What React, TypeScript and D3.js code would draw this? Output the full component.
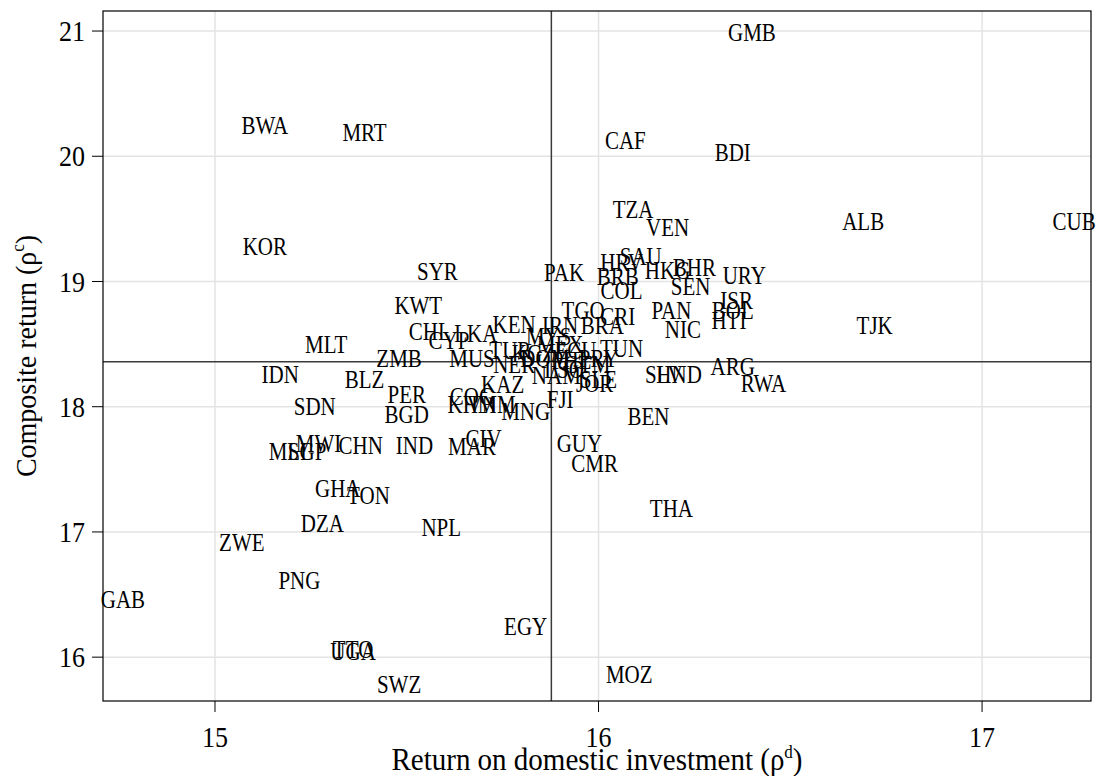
import React, { useRef, useEffect } from 'react';
import * as d3 from 'd3';

// country codes and their (domestic return, composite return) values
const codes = [
  'GMB', 'BWA', 'MRT', 'CAF', 'BDI', 'TZA', 'VEN', 'ALB', 'CUB', 'KOR',
  'SAU', 'HRV', 'HKG', 'BHR', 'URY', 'SYR', 'PAK', 'BRB', 'SEN', 'COL',
  'ISR', 'KWT', 'TJK', 'TGO', 'CRI', 'PAN', 'BOL', 'HTI', 'BRA', 'NIC',
  'KEN', 'IRN', 'CHL', 'LKA', 'CYP', 'MLT', 'ZMB', 'MUS', 'TUN', 'TUR',
  'ARG', 'IDN', 'BLZ', 'NER', 'NAM', 'SLE', 'JOR', 'SLV', 'HND', 'RWA',
  'PER', 'KAZ', 'COG', 'KHM', 'VNM', 'MNG', 'FJI', 'SDN', 'BGD', 'BEN',
  'MWI', 'MLI', 'SGP', 'CHN', 'IND', 'MAR', 'CIV', 'GUY', 'CMR', 'GHA',
  'TON', 'THA', 'DZA', 'NPL', 'ZWE', 'PNG', 'GAB', 'EGY', 'UGA', 'TTO',
  'SWZ', 'MOZ', 'MYS', 'MEX', 'ECU', 'DOM', 'KGZ', 'PRY', 'PHL', 'GTM',
  'LSO',
];

const domesticReturn = [
  16.40, 15.13, 15.39, 16.07, 16.35, 16.09, 16.18, 16.69, 17.24, 15.13,
  16.11, 16.06, 16.18, 16.25, 16.38, 15.58, 15.91, 16.05, 16.24, 16.06,
  16.36, 15.53, 16.72, 15.96, 16.05, 16.19, 16.35, 16.34, 16.01, 16.22,
  15.78, 15.90, 15.56, 15.68, 15.61, 15.29, 15.48, 15.67, 16.06, 15.77,
  16.35, 15.17, 15.39, 15.78, 15.89, 16.00, 15.99, 16.17, 16.21, 16.43,
  15.50, 15.75, 15.67, 15.67, 15.72, 15.81, 15.90, 15.26, 15.50, 16.13,
  15.27, 15.19, 15.24, 15.38, 15.52, 15.67, 15.70, 15.95, 15.99, 15.32,
  15.40, 16.19, 15.28, 15.59, 15.07, 15.22, 14.76, 15.81, 15.36, 15.36,
  15.48, 16.08, 15.87, 15.90, 15.94, 15.86, 15.83, 16.00, 15.93, 15.97,
  15.91,
];

const compositeReturn = [
  20.99, 20.25, 20.19, 20.13, 20.03, 19.58, 19.43, 19.48, 19.48, 19.28,
  19.20, 19.15, 19.09, 19.11, 19.05, 19.08, 19.07, 19.04, 18.96, 18.93,
  18.85, 18.81, 18.65, 18.77, 18.72, 18.77, 18.77, 18.69, 18.65, 18.62,
  18.66, 18.65, 18.60, 18.59, 18.53, 18.50, 18.39, 18.39, 18.47, 18.45,
  18.32, 18.26, 18.22, 18.34, 18.25, 18.22, 18.19, 18.26, 18.26, 18.19,
  18.10, 18.18, 18.08, 18.02, 18.02, 17.96, 18.06, 18.00, 17.94, 17.92,
  17.71, 17.64, 17.64, 17.69, 17.69, 17.68, 17.75, 17.71, 17.55, 17.35,
  17.29, 17.19, 17.07, 17.04, 16.92, 16.61, 16.46, 16.25, 16.05, 16.06,
  15.78, 15.86, 18.56, 18.50, 18.45, 18.39, 18.43, 18.39, 18.37, 18.34,
  18.30,
];

const xTicks = [15, 16, 17];
const yTicks = [16, 17, 18, 19, 20, 21];
const xMean = 15.877;
const yMean = 18.359;

const FONT = '"Liberation Serif", "Times New Roman", Times, serif';

export default function App() {
  const svgRef = useRef<SVGSVGElement>(null);

  useEffect(() => {
    if (!svgRef.current) return;
    const width = 1097;
    const height = 776;
    const margin = { top: 11, right: 6, bottom: 75, left: 103 };

    const svg = d3.select(svgRef.current);
    svg.selectAll('*').remove();

    const x = d3.scaleLinear()
      .domain([14.708, 17.284])
      .range([margin.left, width - margin.right]);
    const y = d3.scaleLinear()
      .domain([15.65, 21.16])
      .range([height - margin.bottom, margin.top]);

    const g = svg.append('g');

    // grid
    g.selectAll('.gx').data(xTicks).enter().append('line')
      .attr('x1', d => x(d)).attr('x2', d => x(d))
      .attr('y1', y.range()[0]).attr('y2', y.range()[1])
      .attr('stroke', '#e3e3e3').attr('stroke-width', 1.5);
    g.selectAll('.gy').data(yTicks).enter().append('line')
      .attr('y1', d => y(d)).attr('y2', d => y(d))
      .attr('x1', x.range()[0]).attr('x2', x.range()[1])
      .attr('stroke', '#e3e3e3').attr('stroke-width', 1.5);

    // reference lines at the means
    g.append('line')
      .attr('x1', x(xMean)).attr('x2', x(xMean))
      .attr('y1', y.range()[0]).attr('y2', y.range()[1])
      .attr('stroke', '#3a3a3a').attr('stroke-width', 1.5);
    g.append('line')
      .attr('y1', y(yMean)).attr('y2', y(yMean))
      .attr('x1', x.range()[0]).attr('x2', x.range()[1])
      .attr('stroke', '#3a3a3a').attr('stroke-width', 1.5);

    // country labels (text is a bit taller than wide in the original)
    g.selectAll('.lab').data(codes).enter().append('text')
      .attr('transform', (d, i) => `translate(${x(domesticReturn[i])},${y(compositeReturn[i])}) scale(1,1.18)`)
      .attr('dy', '0.35em')
      .attr('text-anchor', 'middle')
      .style('font-family', FONT)
      .style('font-size', '21px')
      .attr('fill', '#000')
      .text(d => d);

    // frame
    g.append('rect')
      .attr('x', margin.left).attr('y', margin.top)
      .attr('width', width - margin.left - margin.right)
      .attr('height', height - margin.top - margin.bottom)
      .attr('fill', 'none').attr('stroke', '#000').attr('stroke-width', 1.2);

    // ticks
    const bottom = height - margin.bottom;
    g.selectAll('.tx').data(xTicks).enter().append('line')
      .attr('x1', d => x(d)).attr('x2', d => x(d))
      .attr('y1', bottom).attr('y2', bottom + 11)
      .attr('stroke', '#000');
    g.selectAll('.ty').data(yTicks).enter().append('line')
      .attr('y1', d => y(d)).attr('y2', d => y(d))
      .attr('x1', margin.left - 11).attr('x2', margin.left)
      .attr('stroke', '#000');

    g.selectAll('.txl').data(xTicks).enter().append('text')
      .attr('transform', d => `translate(${x(d)},${bottom + 36}) scale(1,1.12)`)
      .attr('dy', '0.35em')
      .attr('text-anchor', 'middle')
      .style('font-family', FONT)
      .style('font-size', '26px')
      .text(d => d);
    g.selectAll('.tyl').data(yTicks).enter().append('text')
      .attr('transform', d => `translate(${margin.left - 18},${y(d)}) scale(1,1.12)`)
      .attr('dy', '0.35em')
      .attr('text-anchor', 'end')
      .style('font-family', FONT)
      .style('font-size', '26px')
      .text(d => d);

    // axis titles
    const xt = g.append('text')
      .attr('transform', `translate(${(margin.left + width - margin.right) / 2},770) scale(1,1.08)`)
      .attr('text-anchor', 'middle')
      .style('font-family', FONT)
      .style('font-size', '29px');
    xt.append('tspan').text('Return on domestic investment (ρ');
    xt.append('tspan').attr('dy', -11).style('font-size', '17px').text('d');
    xt.append('tspan').attr('dy', 11).text(')');

    const yt = g.append('text')
      .attr('transform', `translate(36,${(margin.top + height - margin.bottom) / 2}) rotate(-90) scale(1,1.08)`)
      .attr('text-anchor', 'middle')
      .style('font-family', FONT)
      .style('font-size', '28px');
    yt.append('tspan').text('Composite return (ρ');
    yt.append('tspan').attr('dy', -11).style('font-size', '17px').text('c');
    yt.append('tspan').attr('dy', 11).text(')');
  }, []);

  return (
    <svg
      ref={svgRef}
      width={1097}
      height={776}
      style={{ position: 'absolute', left: 0, top: 0, background: '#fff' }}
    />
  );
}
